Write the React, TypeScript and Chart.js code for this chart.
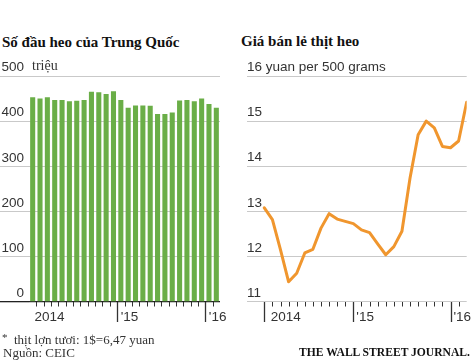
import React, { useEffect, useRef } from 'react';
import { Chart, registerables } from 'chart.js';

Chart.register(...registerables);

// ---- Data: hog stock (million head), monthly Jan 2014 – Feb 2016
const hogMonths = [
  '2014-01', '2014-02', '2014-03', '2014-04', '2014-05', '2014-06', '2014-07', '2014-08', '2014-09', '2014-10', '2014-11', '2014-12',
  '2015-01', '2015-02', '2015-03', '2015-04', '2015-05', '2015-06', '2015-07', '2015-08', '2015-09', '2015-10', '2015-11', '2015-12',
  '2016-01', '2016-02',
];
const hogStock = [
  453, 450, 453, 447, 447, 444, 445, 447, 465, 464, 460, 466,
  447, 430, 435, 435, 434, 416, 416, 419, 446, 447, 444, 450,
  438, 430,
];
const hogYTicks = [0, 100, 200, 300, 400, 500];
const hogYearLabels = ['2014', "'15", "'16"];
const hogYearStarts = [0, 12, 24]; // category index where each year begins

// ---- Data: retail pork price (yuan per 500 g)
const porkPrice = [
  13.08, 12.82, 12.15, 11.44, 11.63, 12.08, 12.16, 12.63, 12.95, 12.83, 12.78, 12.73,
  12.59, 12.53, 12.28, 12.04, 12.22, 12.56, 13.74, 14.70, 15.0, 14.85, 14.44, 14.41,
  14.56, 15.42,
];
const porkYTicks = [11, 12, 13, 14, 15, 16];
const porkYearLabels = ['2014', "'15", "'16"];
const porkYearMarks = [0, 11, 23]; // point index under each year mark

const SANS = "'Liberation Sans', Arial, sans-serif";
const SERIF = "'Liberation Serif', 'Times New Roman', serif";
const GRID = '#c9c9c9';
const TEXT = '#333333';

const axisMarks = {
  id: 'axisMarks',
  afterDatasetsDraw(chart: any, _args: any, opts: any) {
    const xs = chart.scales.x;
    const ys = chart.scales.y;
    const base = Math.round(ys.getPixelForValue(opts.baseValue));
    const ctx = chart.ctx;
    ctx.save();
    ctx.strokeStyle = TEXT;
    ctx.lineWidth = 1;
    (opts.minor as number[]).forEach((v) => {
      const px = Math.round(xs.getPixelForValue(v)) + 0.5;
      ctx.beginPath();
      ctx.moveTo(px, base);
      ctx.lineTo(px, base + 4.5);
      ctx.stroke();
    });
    ctx.lineWidth = 1.3;
    (opts.major as number[]).forEach((v) => {
      const px = Math.round(xs.getPixelForValue(v)) + 0.5;
      ctx.beginPath();
      ctx.moveTo(px, base);
      ctx.lineTo(px, base + 20);
      ctx.stroke();
    });
    ctx.fillStyle = TEXT;
    ctx.font = `13.5px ${SANS}`;
    ctx.textAlign = 'left';
    ctx.textBaseline = 'middle';
    (opts.labels as { at: number; text: string; dx: number }[]).forEach((l) => {
      const px = xs.getPixelForValue(l.at) + l.dx;
      ctx.fillText(l.text, px, base + 15.5);
    });
    ctx.restore();
  },
};

function HogChart() {
  const ref = useRef<HTMLCanvasElement | null>(null);
  useEffect(() => {
    if (!ref.current) return;
    const minor: number[] = [];
    for (let b = 1; b < hogMonths.length; b++) {
      if (!hogYearStarts.includes(b)) minor.push(b - 0.5);
    }
    const major = hogYearStarts.filter((b) => b > 0).map((b) => b - 0.5);
    const labels = hogYearLabels.map((t, i) => ({
      at: hogYearStarts[i] - 0.5,
      text: t,
      dx: i === 0 ? 5.5 : 3.5,
    }));
    const chart = new Chart(ref.current, {
      type: 'bar',
      data: {
        labels: hogMonths,
        datasets: [
          {
            data: hogStock,
            backgroundColor: '#6aae47',
            borderWidth: 0,
            categoryPercentage: 1,
            barPercentage: 0.69,
          },
        ],
      },
      options: {
        animation: false,
        responsive: false,
        maintainAspectRatio: false,
        layout: { padding: { top: 26, bottom: 38, left: 0, right: 8 } },
        plugins: {
          legend: { display: false },
          tooltip: { enabled: false },
          axisMarks: { baseValue: 0, minor, major, labels },
        } as any,
        scales: {
          x: { display: false, offset: true },
          y: {
            min: 0,
            max: 500,
            afterBuildTicks: (s: any) => {
              s.ticks = hogYTicks.map((v) => ({ value: v }));
            },
            afterFit: (s: any) => {
              s.width = 29;
            },
            border: { display: false },
            grid: {
              color: (c: any) => (c.tick && c.tick.value === 0 ? '#222222' : GRID),
              lineWidth: (c: any) => (c.tick && c.tick.value === 0 ? 1.3 : 1),
              tickLength: 29,
              drawTicks: true,
            },
            ticks: {
              padding: -24,
              labelOffset: -8.5,
              color: TEXT,
              font: { family: SANS, size: 13.5 },
            },
          },
        },
      },
      plugins: [axisMarks],
    });
    return () => chart.destroy();
  }, []);
  return <canvas ref={ref} width={228} height={290} style={{ position: 'absolute', left: 0, top: 50 }} />;
}

function PorkChart() {
  const ref = useRef<HTMLCanvasElement | null>(null);
  useEffect(() => {
    if (!ref.current) return;
    const minor: number[] = [];
    for (let i = 1; i < porkPrice.length - 1; i++) {
      if (!porkYearMarks.includes(i)) minor.push(i);
    }
    const labels = porkYearLabels.map((t, i) => ({
      at: porkYearMarks[i],
      text: t,
      dx: i === 0 ? 6.5 : 3,
    }));
    const chart = new Chart(ref.current, {
      type: 'line',
      data: {
        datasets: [
          {
            data: porkPrice.map((v, i) => ({ x: i, y: v })),
            borderColor: '#f0962e',
            borderWidth: 3,
            pointRadius: 0,
            tension: 0,
            borderJoinStyle: 'round',
            borderCapStyle: 'round',
            fill: false,
          },
        ],
      },
      options: {
        animation: false,
        responsive: false,
        maintainAspectRatio: false,
        layout: { padding: { top: 26, bottom: 38.3, left: 7, right: 8.3 } },
        plugins: {
          legend: { display: false },
          tooltip: { enabled: false },
          axisMarks: { baseValue: 11, minor, major: porkYearMarks, labels },
        } as any,
        scales: {
          x: { type: 'linear', display: false, min: -2.14, max: porkPrice.length - 1 },
          y: {
            min: 11,
            max: 16,
            afterBuildTicks: (s: any) => {
              s.ticks = porkYTicks.map((v) => ({ value: v }));
            },
            afterFit: (s: any) => {
              s.width = 0;
            },
            border: { display: false },
            grid: { color: GRID, lineWidth: 1, drawTicks: false },
            ticks: {
              mirror: true,
              padding: 0,
              labelOffset: -8.5,
              color: TEXT,
              font: { family: SANS, size: 13.5 },
              callback: (v: any) => (v === 16 ? '16 yuan per 500 grams' : String(v)),
            },
          },
        },
      },
      plugins: [axisMarks],
    });
    return () => chart.destroy();
  }, []);
  return <canvas ref={ref} width={235} height={290} style={{ position: 'absolute', left: 240, top: 50 }} />;
}

function Txt(props: { x: number; cy: number; size: number; bold?: boolean; family?: string; right?: boolean; children: React.ReactNode }) {
  const lh = 16;
  const style: React.CSSProperties = {
    position: 'absolute',
    top: props.cy - lh / 2,
    lineHeight: `${lh}px`,
    fontSize: props.size,
    fontFamily: props.family || SERIF,
    fontWeight: props.bold ? 'bold' : 'normal',
    color: props.bold ? '#111' : TEXT,
    whiteSpace: 'nowrap',
  };
  if (props.right) style.right = 475 - props.x;
  else style.left = props.x;
  return <div style={style}>{props.children}</div>;
}

export default function App() {
  return (
    <div style={{ position: 'absolute', left: 0, top: 0, width: 475, height: 361, background: '#fff', overflow: 'hidden' }}>
      <Txt x={2} cy={42} size={15} bold>Số đầu heo của Trung Quốc</Txt>
      <Txt x={241} cy={41} size={15} bold>Giá bán lẻ thịt heo</Txt>
      <HogChart />
      <PorkChart />
      <Txt x={32} cy={65.5} size={14}>triệu</Txt>
      <Txt x={2} cy={339.5} size={13}>
        <span style={{ position: 'relative', top: -3, fontSize: 11 }}>*</span>&nbsp;&nbsp;thịt lợn tươi: 1$=6,47 yuan
      </Txt>
      <Txt x={3} cy={352.5} size={13}>Nguồn: CEIC</Txt>
      <Txt x={470} cy={353} size={11.6} bold right>THE WALL STREET JOURNAL.</Txt>
    </div>
  );
}
